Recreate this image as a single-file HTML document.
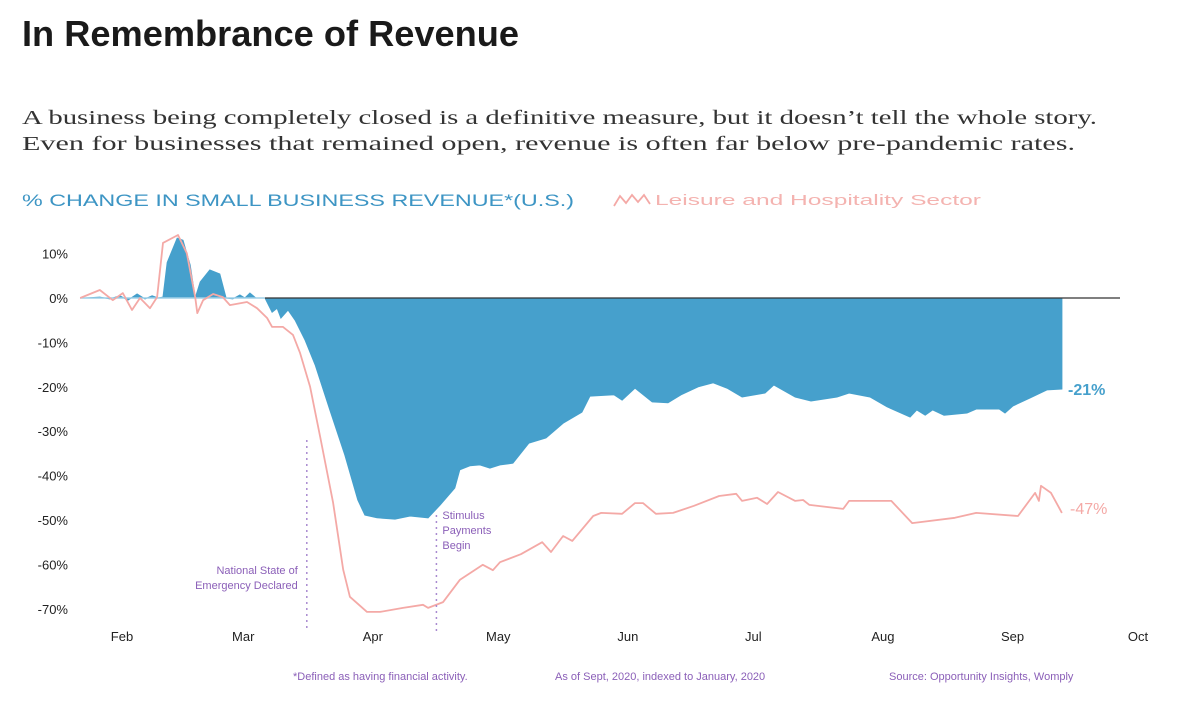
<!DOCTYPE html>
<html><head><meta charset="utf-8"><style>
html,body{margin:0;padding:0;background:#fff;width:1177px;height:704px;overflow:hidden}
svg{display:block}
</style></head><body>
<svg id="chart" width="1177" height="704" xmlns="http://www.w3.org/2000/svg">
<text x="22" y="46" font-family="'Liberation Sans Narrow','Liberation Sans',sans-serif" font-weight="bold" font-size="36" fill="#1a1a1a" textLength="497" lengthAdjust="spacingAndGlyphs">In Remembrance of Revenue</text>
<text x="22" y="124" font-family="'Liberation Serif',serif" font-size="20" fill="#333" textLength="1075" lengthAdjust="spacingAndGlyphs">A business being completely closed is a definitive measure, but it doesn’t tell the whole story.</text>
<text x="22" y="150" font-family="'Liberation Serif',serif" font-size="20" fill="#333" textLength="1053" lengthAdjust="spacingAndGlyphs">Even for businesses that remained open, revenue is often far below pre-pandemic rates.</text>
<text x="22" y="206" font-family="'Liberation Sans',sans-serif" font-size="17" fill="#3d95c4" textLength="552" lengthAdjust="spacingAndGlyphs">% CHANGE IN SMALL BUSINESS REVENUE*(U.S.)</text>
<path d="M614,206 L620,196 L626,203 L632,195 L638,202 L644,195 L650,204" fill="none" stroke="#f4a9a6" stroke-width="1.8"/>
<text x="655" y="205" font-family="'Liberation Sans',sans-serif" font-size="15" fill="#f4b3b0" textLength="326" lengthAdjust="spacingAndGlyphs">Leisure and Hospitality Sector</text>
<g id="yaxis"></g><g id="xaxis"></g><g id="plot"></g>
<text x="293" y="680" font-family="'Liberation Sans',sans-serif" font-size="11" fill="#8b5fb8">*Defined as having financial activity.</text>
<text x="555" y="680" font-family="'Liberation Sans',sans-serif" font-size="11" fill="#8b5fb8">As of Sept, 2020, indexed to January, 2020</text>
<text x="889" y="680" font-family="'Liberation Sans',sans-serif" font-size="11" fill="#8b5fb8">Source: Opportunity Insights, Womply</text>
</svg>
<script>
// days since Jan 1 2020
const allDays = [22.2,25.7,28.1,30.5,32.4,34.6,36.5,38.2,39.6,40.8,41.8,44.2,45.6,47.3,48.5,49.7,52.0,54.4,55.9,57.5,59.2,60.4,61.6,63.0,65.2,66.9,68.1,69.0,70.7,72.4,74.8,77.2,80.7,84.3,87.4,89.1,92.0,96.3,99.9,104.2,107.1,110.6,111.8,114.2,116.6,119.0,121.4,124.5,128.3,132.4,136.5,141.0,142.9,148.7,150.6,153.7,157.8,161.6,164.7,168.8,172.4,175.7,179.3,184.8,186.9,192.0,195.8,202.0,204.9,209.9,214.0,219.5,221.1,223.1,224.9,227.6,233.1,235.3,240.8,242.2,244.1,248.2,252.2,255.8];
const allValues = [0,0.2,-0.2,0.5,-0.5,0.9,-0.2,0.5,0,0.2,8,13.5,13,7.4,0,3.6,6.3,5.4,0,-0.2,0.7,0,1.1,0,0,-3.2,-2.3,-4.5,-2.7,-5,-9.5,-15.1,-25.2,-35.4,-45.5,-48.9,-49.5,-49.8,-49.1,-49.5,-46.6,-42.8,-38.7,-37.8,-37.6,-38.3,-37.6,-37.2,-32.7,-31.5,-28.2,-25.7,-22.1,-21.8,-23,-20.3,-23.4,-23.6,-21.8,-20,-19.1,-20.3,-22.3,-21.4,-19.6,-22.3,-23.2,-22.3,-21.4,-22.3,-24.5,-26.8,-25.2,-26.4,-25.2,-26.4,-25.9,-25,-25,-25.9,-24.3,-22.5,-20.7,-20.5];
const leisureDays = [21,25.7,28.8,31.2,33.4,35.3,37.7,39.4,40.8,44.4,46.5,48.5,49.0,50.4,52.8,55.1,56.8,60.9,63.3,65.7,66.9,69.5,71.9,73.6,76.0,78.4,81.5,83.9,85.5,89.6,92.7,98.2,103.0,104.2,107.8,111.8,117.3,119.7,121.4,126.4,131.5,133.6,136.5,138.7,143.7,145.6,150.6,153.7,155.6,158.7,162.8,167.8,173.8,177.9,179.3,182.9,185.3,187.9,192.0,193.9,195.4,203.5,204.9,215.0,220.0,230.2,235.3,245.3,249.4,250.3,250.8,253.2,255.8];
const leisureValues = [0,1.8,-0.5,1.1,-2.7,0,-2.3,0.2,12.4,14.2,10.1,0.2,-3.4,-0.5,0.9,0.2,-1.6,-0.9,-2.3,-4.5,-6.5,-6.5,-8.3,-12.4,-20,-31.3,-46.1,-61.2,-67.3,-70.7,-70.7,-69.8,-69.1,-69.8,-68.5,-63.5,-60.1,-61.3,-59.5,-57.7,-55,-57.2,-53.6,-54.7,-49.1,-48.4,-48.6,-46.2,-46.2,-48.6,-48.4,-46.8,-44.6,-44.1,-45.7,-45,-46.4,-43.7,-45.7,-45.5,-46.6,-47.5,-45.7,-45.7,-50.7,-49.5,-48.4,-49.1,-43.9,-45.7,-42.3,-43.9,-48.4];
const yTicks = [10,0,-10,-20,-30,-40,-50,-60,-70];
const monthLabels = ["Feb","Mar","Apr","May","Jun","Jul","Aug","Sep","Oct"];
const monthDays = [31,60,91,121,152,182,213,244,274];
const events = [{day:75.2,label:["National State of","Emergency Declared"]},{day:106.2,label:["Stimulus","Payments","Begin"]}];
const endLabels = ["-21%","-47%"];

const NS="http://www.w3.org/2000/svg";
const X = d => 122 + (d-31)*(1138-122)/243;
const Y = v => 298 - v*4.44;
function mk(tag, attrs, parent){const e=document.createElementNS(NS,tag);for(const k in attrs)e.setAttribute(k,attrs[k]);parent.appendChild(e);return e;}
const plot=document.getElementById('plot'), ya=document.getElementById('yaxis'), xa=document.getElementById('xaxis');

yTicks.forEach(t=>{
  const e=mk('text',{x:68,y:Y(t)+5,'text-anchor':'end','font-family':"'Liberation Sans',sans-serif",'font-size':13,fill:'#222'},ya);
  
  
  e.textContent=t+'%';
});
monthLabels.forEach((m,i)=>{
  const e=mk('text',{x:X(monthDays[i]),y:641,'text-anchor':'middle','font-family':"'Liberation Sans',sans-serif",'font-size':13,fill:'#222'},xa);
  
  
  e.textContent=m;
});

// blue area
let d='M'+X(allDays[0])+','+Y(0);
allDays.forEach((dd,i)=>{d+=' L'+X(dd).toFixed(1)+','+Y(allValues[i]).toFixed(1);});
d+=' L'+X(allDays[allDays.length-1]).toFixed(1)+','+Y(0)+' Z';
const area=mk('path',{d:d,fill:'#46a0cc',stroke:'#46a0cc','stroke-width':1},plot);



const z1=mk('line',{x1:80,x2:265,y1:Y(0),y2:Y(0),stroke:'#9fd0e8','stroke-width':1.5},plot);


const z2=mk('line',{x1:265,x2:1120,y1:Y(0),y2:Y(0),stroke:'#333','stroke-width':1.2},plot);



let p='';
leisureDays.forEach((dd,i)=>{p+=(i?' L':'M')+X(dd).toFixed(1)+','+Y(leisureValues[i]).toFixed(1);});
const ln=mk('path',{d:p,fill:'none',stroke:'#f4a9a6','stroke-width':1.8,'stroke-linejoin':'round'},plot);



events.forEach((ev,i)=>{
  const x=X(ev.day);
  const l=mk('line',{x1:x,x2:x,y1:i?515:440,y2:632,stroke:'#a98ad0','stroke-width':1.5,'stroke-dasharray':'2,4'},plot);
  
  
  ev.label.forEach((s,j)=>{
    const t=mk('text',{x:i?x+6:x-9,y:(i?519:574)+j*15,'text-anchor':i?'start':'end','font-family':"'Liberation Sans',sans-serif",'font-size':11,fill:'#8b5fb8'},plot);
    
    
    t.textContent=s;
  });
});
const lastA=allValues[allValues.length-1], lastL=leisureValues[leisureValues.length-1];
const e1=mk('text',{x:1068,y:Y(lastA)+6,'font-family':"'Liberation Sans',sans-serif",'font-size':16,'font-weight':'bold',fill:'#46a0cc'},plot);


e1.textContent=endLabels[0];
const e2=mk('text',{x:1070,y:Y(lastL)+1,'font-family':"'Liberation Sans',sans-serif",'font-size':16,fill:'#f4a9a6'},plot);


e2.textContent=endLabels[1];
</script>
</body></html>
